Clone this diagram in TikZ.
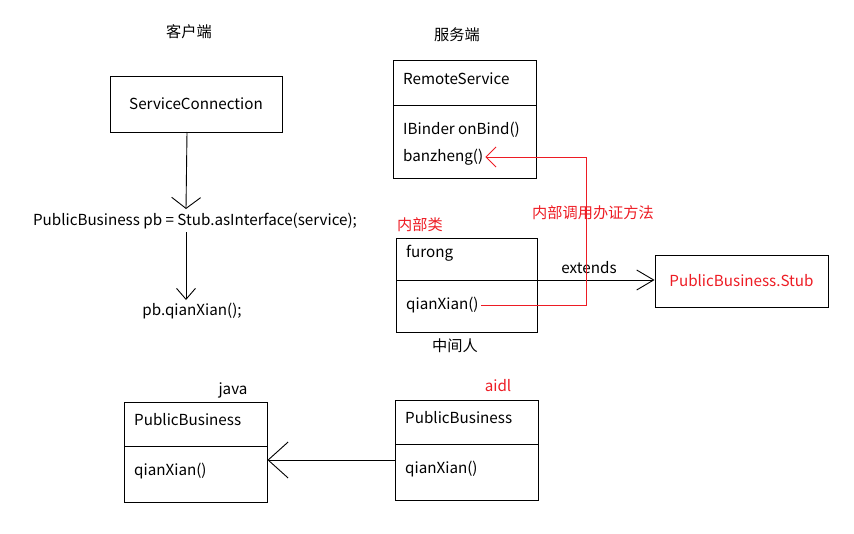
\documentclass[tikz,border=0pt]{standalone}
\usepackage{fontspec}
\setmainfont{Noto Sans CJK SC}
\usetikzlibrary{arrows.meta}
\definecolor{redc}{RGB}{237,28,36}
\tikzset{
  box/.style={draw, line width=0.9pt, inner sep=0pt},
  txt/.style={inner sep=0pt, font=\fontsize{15.2}{17}\selectfont},
  ltxt/.style={txt, anchor=west},
  ln/.style={line width=0.9pt},
}
\begin{document}
\begin{tikzpicture}[x=1pt,y=-1pt]
\useasboundingbox (0,0) rectangle (854,533);
% titles
\node[txt] (client) at (189,32) {客户端};
\node[txt] (server) at (457,35) {服务端};
% client side
\node[box, txt, minimum width=172pt, minimum height=56pt] (sc) at (196,104) {ServiceConnection};
\node[txt] (code) at (195,221) {PublicBusiness pb = Stub.asInterface(service);};
\node[txt] (call) at (192,311) {pb.qianXian();};
\coordinate (a1) at (187,132);
\coordinate (a2) at (186,209);
\coordinate (b1) at (186,232);
\coordinate (b2) at (186,300);
\draw[ln, -{Straight Barb[length=11pt,width=29pt]}] (a1) -- (a2);
\draw[ln, -{Straight Barb[length=11pt,width=19pt]}] (b1) -- (b2);
% RemoteService
\node[box, minimum width=143pt, minimum height=118pt] (rs) at (464.5,119) {};
\draw[ln] (393,105) -- (536,105);
\node[ltxt] (rsname) at (403,79) {RemoteService};
\node[ltxt] (onbind) at (403,130) {IBinder onBind()};
\node[ltxt] (bz) at (403,157) {banzheng()};
% furong
\node[txt, text=redc] (inner) at (420,225) {内部类};
\node[box, minimum width=141pt, minimum height=94pt] (fr) at (466.5,285) {};
\draw[ln] (396,280) -- (537,280);
\node[ltxt] (frname) at (406,253) {furong};
\node[ltxt] (qx) at (406,305) {qianXian()};
\node[txt] (mid) at (455,346) {中间人};
% Stub
\node[box, txt, text=redc, minimum width=173pt, minimum height=52pt] (stub) at (741.5,281) {PublicBusiness.Stub};
\coordinate (e1) at (537,280);
\draw[ln, -{Straight Barb[length=17pt,width=20pt]}] (e1) -- (stub.west |- e1);
\node[txt] (ext) at (589,268) {extends};
% red call
\coordinate (rc) at (586.5,230);
\draw[ln, redc, -{Straight Barb[length=10pt,width=20pt]}] ([xshift=2pt]qx.east) -| (rc) |- ([xshift=2pt]bz.east);
\node[txt, text=redc] (redlbl) at (593,213) {内部调用办证方法};
% java PublicBusiness
\node[txt] (java) at (233,390) {java};
\node[box, minimum width=143pt, minimum height=100pt] (pbj) at (195.5,452) {};
\draw[ln] (124,446) -- (267,446);
\node[ltxt] (pbjname) at (134,420) {PublicBusiness};
\node[ltxt] (pbjm) at (134,471) {qianXian()};
% aidl PublicBusiness
\node[txt, text=redc] (aidl) at (498,386) {aidl};
\node[box, minimum width=143pt, minimum height=100pt] (pba) at (466.5,450) {};
\draw[ln] (395,444) -- (538,444);
\node[ltxt] (pbaname) at (405,418) {PublicBusiness};
\node[ltxt] (pbam) at (405,469) {qianXian()};
\coordinate (g) at (0,460);
\draw[ln, -{Straight Barb[length=20pt,width=36pt]}] (pba.west |- g) -- (pbj.east |- g);
\end{tikzpicture}
\end{document}
